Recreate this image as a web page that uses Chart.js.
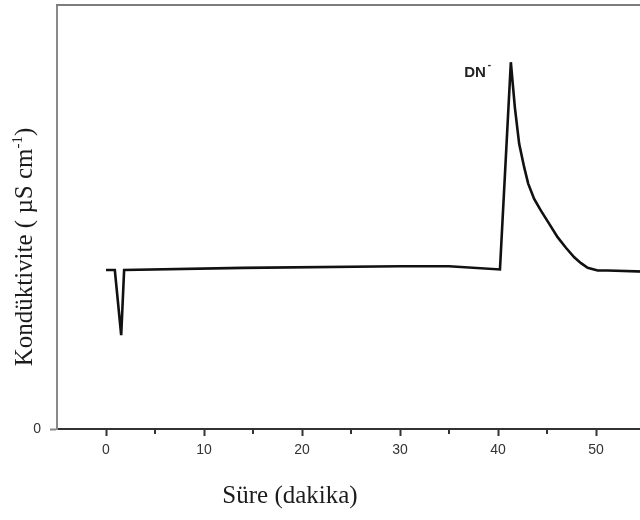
<!DOCTYPE html>
<html lang="tr">
<head>
    <meta charset="UTF-8">
    <title>Kondüktivite - Süre</title>
    <script src="https://cdn.jsdelivr.net/npm/chart.js"></script>
    <style>
        html, body { margin: 0; padding: 0; background: #fff; overflow: hidden; }
        .chart-box { width: 700px; height: 520px; }
    </style>
</head>
<body>
    <div class="chart-box"><canvas id="kromatogram" width="700" height="520"></canvas></div>

    <script>
        // Süre (dakika)
        const sure = [0, 0.9, 1.55, 1.85, 14, 30, 35, 40.2, 41.31, 41.72, 42.16, 42.67, 43.08, 43.69,
                      44.38, 45.23, 46.08, 46.93, 47.78, 48.47, 49.15, 50.17, 51.2, 55];
        // Kondüktivite
        const kondu = [3.0, 3.0, 1.77, 3.0, 3.04, 3.07, 3.07, 3.01, 6.92, 6.07, 5.38, 4.94, 4.63, 4.34,
                       4.12, 3.87, 3.62, 3.42, 3.24, 3.13, 3.04, 2.99, 2.99, 2.97];

        const xTicks = [0, 10, 20, 30, 40, 50, 60];
        const xMinorTicks = [5, 15, 25, 35, 45, 55];
        const yTicks = [0];

        const peakLabel = 'DN';
        const peakCharge = '-';

        // eksen kutularının kendi iç boşluklarını sıfırla
        function fixBox(s, w, h) {
            if (w) s.width = w;
            if (h) s.height = h;
            s.paddingTop = s.paddingBottom = s.paddingLeft = s.paddingRight = 0;
        }

        // çerçeve, ara çentikler, pik etiketi ve eksen başlıkları
        const extras = {
            id: 'extras',
            afterDraw(chart) {
                const { ctx, chartArea, scales: { x, y } } = chart;
                ctx.save();

                ctx.strokeStyle = '#7d7d7d';
                ctx.lineWidth = 2;
                ctx.beginPath();
                ctx.moveTo(chartArea.left - 1, chartArea.top);
                ctx.lineTo(chartArea.right, chartArea.top);
                ctx.stroke();

                ctx.strokeStyle = '#333';
                xMinorTicks.forEach(v => {
                    const px = Math.round(x.getPixelForValue(v));
                    ctx.beginPath();
                    ctx.moveTo(px, chartArea.bottom);
                    ctx.lineTo(px, chartArea.bottom + 5);
                    ctx.stroke();
                });

                const i = kondu.indexOf(Math.max(...kondu));
                const px = x.getPixelForValue(sure[i]);
                const py = y.getPixelForValue(kondu[i]);
                ctx.fillStyle = '#222';
                ctx.textBaseline = 'alphabetic';
                ctx.font = "bold 15px 'Liberation Sans'";
                ctx.textAlign = 'right';
                ctx.fillText(peakLabel, px - 25, py + 15);
                ctx.font = "bold 10px 'Liberation Sans'";
                ctx.textAlign = 'left';
                ctx.fillText(peakCharge, px - 23, py + 6);

                // x ekseni başlığı
                ctx.fillStyle = '#1c1c1c';
                ctx.font = "25px 'Liberation Serif'";
                ctx.textAlign = 'center';
                ctx.fillText('Süre (dakika)', 290, 503);

                // y ekseni başlığı (üst simgeli birim)
                const main = 'Kondüktivite ( µS cm', sup = '-1', tail = ')';
                const big = "25px 'Liberation Serif'", small = "15px 'Liberation Serif'";
                ctx.font = big;
                const w1 = ctx.measureText(main).width;
                const w3 = ctx.measureText(tail).width;
                ctx.font = small;
                const w2 = ctx.measureText(sup).width;
                ctx.translate(24, 247);
                ctx.rotate(-Math.PI / 2);
                ctx.textAlign = 'left';
                let sx = -(w1 + w2 + w3) / 2;
                ctx.font = big;
                ctx.fillText(main, sx, 8);
                sx += w1;
                ctx.font = small;
                ctx.fillText(sup, sx, -2);
                sx += w2;
                ctx.font = big;
                ctx.fillText(tail, sx, 8);

                ctx.restore();
            }
        };

        Chart.defaults.font.family = "'Liberation Sans', Arial, sans-serif";

        new Chart(document.getElementById('kromatogram'), {
            type: 'line',
            data: {
                datasets: [{
                    data: sure.map((t, i) => ({ x: t, y: kondu[i] })),
                    borderColor: '#111',
                    borderWidth: 2.6,
                    pointRadius: 0,
                    tension: 0,
                    fill: false
                }]
            },
            options: {
                responsive: false,
                animation: false,
                devicePixelRatio: 1,
                layout: { padding: { top: 5, right: 6, left: 0, bottom: 0 } },
                plugins: {
                    legend: { display: false },
                    tooltip: { enabled: false }
                },
                scales: {
                    x: {
                        type: 'linear',
                        min: -5,
                        max: 60,
                        afterBuildTicks: s => { s.ticks = xTicks.map(v => ({ value: v })); },
                        afterFit: s => fixBox(s, 0, 91),
                        grid: { drawOnChartArea: false, tickLength: 7, tickWidth: 2, tickColor: '#333' },
                        border: { color: '#333', width: 2 },
                        ticks: { color: '#333', padding: 6, font: { size: 14 }, maxRotation: 0, autoSkip: false }
                    },
                    y: {
                        min: 0,
                        max: 8,
                        afterBuildTicks: s => { s.ticks = yTicks.map(v => ({ value: v })); },
                        afterFit: s => fixBox(s, 57, 0),
                        grid: { drawOnChartArea: false, tickLength: 7, tickWidth: 2, tickColor: '#888' },
                        border: { color: '#8a8a8a', width: 2 },
                        ticks: { color: '#333', padding: 9, font: { size: 14 } }
                    }
                }
            },
            plugins: [extras]
        });
    </script>
</body>
</html>
